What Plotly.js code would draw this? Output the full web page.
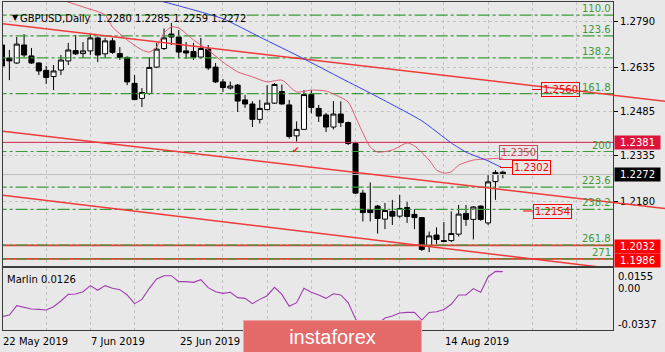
<!DOCTYPE html>
<html><head><meta charset="utf-8">
<script src="https://cdn.plot.ly/plotly-3.0.1.min.js"></script>
<style>html,body{margin:0;padding:0;background:#E8E8E8;}#chart{width:665px;height:352px;}</style>
</head><body><div id="chart"></div>
<script>
// ---------- data ----------
const dates = ['2019-05-22','2019-05-23','2019-05-24','2019-05-27','2019-05-28','2019-05-29','2019-05-30','2019-05-31',
 '2019-06-03','2019-06-04','2019-06-05','2019-06-06','2019-06-07','2019-06-10','2019-06-11','2019-06-12','2019-06-13','2019-06-14',
 '2019-06-17','2019-06-18','2019-06-19','2019-06-20','2019-06-21','2019-06-24','2019-06-25','2019-06-26','2019-06-27','2019-06-28',
 '2019-07-01','2019-07-02','2019-07-03','2019-07-04','2019-07-05','2019-07-08','2019-07-09','2019-07-10','2019-07-11','2019-07-12',
 '2019-07-15','2019-07-16','2019-07-17','2019-07-18','2019-07-19','2019-07-22','2019-07-23','2019-07-24','2019-07-25','2019-07-26',
 '2019-07-29','2019-07-30','2019-07-31','2019-08-01','2019-08-02','2019-08-05','2019-08-06','2019-08-07','2019-08-08','2019-08-09',
 '2019-08-12','2019-08-13','2019-08-14','2019-08-15','2019-08-16','2019-08-19','2019-08-20','2019-08-21','2019-08-22','2019-08-23','2019-08-26'];
const openP  = [1.2711,1.2667,1.2650,1.2711,1.2674,1.2650,1.2625,1.2604,1.2626,1.2657,1.2692,1.2682,1.2691,1.2735,1.2681,1.2725,1.2682,1.2669,1.2581,1.2530,1.2547,1.2636,1.2699,1.2748,1.2738,1.2691,1.2689,1.2670,1.2697,1.2636,1.2586,1.2565,1.2575,1.2525,1.2511,1.2459,1.2492,1.2514,1.2553,1.2508,1.2403,1.2425,1.2543,1.2496,1.2474,1.2433,1.2477,1.2448,1.2377,1.2209,1.2152,1.2165,1.2121,1.2147,1.2131,1.2160,1.2137,1.2126,1.2028,1.2067,1.2048,1.2048,1.2070,1.2140,1.2120,1.2165,1.2108,1.2248,1.2280];
const highP  = [1.2728,1.2694,1.2738,1.2748,1.2701,1.2653,1.2640,1.2643,1.2677,1.2718,1.2745,1.2721,1.2748,1.2740,1.2735,1.2735,1.2704,1.2672,1.2609,1.2565,1.2670,1.2718,1.2767,1.2786,1.2762,1.2721,1.2718,1.2735,1.2711,1.2650,1.2596,1.2587,1.2579,1.2542,1.2520,1.2525,1.2575,1.2582,1.2577,1.2525,1.2452,1.2558,1.2558,1.2508,1.2481,1.2521,1.2520,1.2452,1.2379,1.2220,1.2245,1.2169,1.2176,1.2186,1.2203,1.2179,1.2155,1.2128,1.2079,1.2093,1.2111,1.2147,1.2169,1.2169,1.2165,1.2167,1.2270,1.2287,1.2285];
const lowP   = [1.2630,1.2592,1.2647,1.2670,1.2647,1.2609,1.2579,1.2558,1.2609,1.2643,1.2677,1.2667,1.2677,1.2653,1.2667,1.2681,1.2660,1.2575,1.2525,1.2501,1.2542,1.2633,1.2694,1.2711,1.2667,1.2664,1.2660,1.2664,1.2626,1.2582,1.2552,1.2560,1.2484,1.2498,1.2433,1.2445,1.2491,1.2511,1.2509,1.2394,1.2384,1.2423,1.2479,1.2450,1.2416,1.2425,1.2433,1.2372,1.2206,1.2113,1.2113,1.2072,1.2087,1.2101,1.2125,1.2108,1.2087,1.2013,1.2009,1.2037,1.2043,1.2043,1.2062,1.2098,1.2052,1.2115,1.2101,1.2186,1.2259];
const closeP = [1.2640,1.2657,1.2714,1.2677,1.2650,1.2623,1.2601,1.2623,1.2660,1.2694,1.2681,1.2691,1.2735,1.2677,1.2725,1.2686,1.2669,1.2586,1.2526,1.2550,1.2635,1.2697,1.2735,1.2738,1.2687,1.2684,1.2669,1.2699,1.2633,1.2586,1.2567,1.2572,1.2521,1.2511,1.2459,1.2496,1.2514,1.2577,1.2511,1.2401,1.2425,1.2543,1.2499,1.2470,1.2433,1.2477,1.2448,1.2377,1.2209,1.2143,1.2143,1.2123,1.2150,1.2131,1.2157,1.2130,1.2126,1.2018,1.2064,1.2052,1.2045,1.2072,1.2138,1.2120,1.2162,1.2120,1.2247,1.2279,1.2272];

// indicator on the main chart (thin crimson curve) and slow MA (blue)
const redCurveBars = [5,8,11,14,15,17,19,20,21,22,23,24,26,28,30,32,34,36,38,40,42,44,45,47,48,49,50,51,53,55,56,58,59,60,61,62,64,66,68];
const redCurveVals = [1.2880,1.2864,1.2840,1.2813,1.2772,1.2728,1.2694,1.2687,1.2704,1.2752,1.2772,1.2769,1.2728,1.2694,1.2653,1.2620,1.2603,1.2586,1.2592,1.2552,1.2558,1.2555,1.2545,1.2518,1.2467,1.2413,1.2365,1.2348,1.2355,1.2379,1.2369,1.2321,1.2287,1.2277,1.2281,1.2304,1.2321,1.2325,1.2328];
const maBars = [18,22,30,35,41,46,51,57,61,63,66,68];
const maVals = [1.2880,1.2857,1.2800,1.2738,1.2664,1.2599,1.2535,1.2454,1.2379,1.2348,1.2318,1.2294];

// Marlin oscillator
const marlin = [-0.0231,-0.0218,-0.0144,-0.0160,-0.0170,-0.0173,-0.0178,-0.0152,-0.0107,-0.0054,
 -0.0051,-0.0033,0.0015,-0.0022,0.0015,-0.0006,-0.0017,-0.0059,-0.0128,-0.0094,
 -0.0006,0.0068,0.0094,0.0094,0.0047,0.0047,0.0041,0.0062,-0.0001,-0.0033,
 -0.0046,-0.0038,-0.0080,-0.0086,-0.0128,-0.0094,-0.0065,0.0002,-0.0054,-0.0149,
 -0.0120,-0.0006,-0.0038,-0.0059,-0.0086,-0.0049,-0.0059,-0.0119,-0.0250,-0.0305,
 -0.0321,-0.0289,-0.0242,-0.0226,-0.0202,-0.0197,-0.0197,-0.0258,-0.0198,-0.0192,
 -0.0174,-0.0133,-0.0059,-0.0059,-0.0008,-0.0038,0.0084,0.0128,0.0126];
const marlinTickText = ['0.0155','0.00','-0.0337'];

// trend lines (bar index -> price)
const trendBars = [0, 83];
const topTrend = [1.2783, 1.2541];
const midTrend = [1.2419, 1.2177];
const lowTrend = [1.2202, 1.1953];

// Fibonacci expansion levels
const fibLabels = ['110.0','123.6','138.2','161.8','200','223.6','238.2','261.8','271'];
const fibPrices = [1.2812,1.2742,1.2667,1.2546,1.2350,1.2229,1.2154,1.2033,1.1986];

// horizontal levels
const crimsonLevel = 1.2381;
const redLevels = [1.2032, 1.1986];
const bidPrice = 1.2272;

// axis ticks
const priceTicks = [1.2790, 1.2635, 1.2485, 1.2335, 1.2180];
const dateTickBars = [0, 12, 24, 60];
const dateTickText = ['22 May 2019','7 Jun 2019','25 Jun 2019','14 Aug 2019'];

// price labels drawn on the chart
const tagTexts = ['1.2560','1.2350','1.2302','1.2154'];

// ---------- drawing ----------
const bars = dates.map((d, i) => i);
const FONT = 'DejaVu Sans, Verdana, sans-serif';
const BG = '#E8E8E8', GRID = '#C2C2C2', FRAME = '#3C3C3C', GREEN = '#3A9A3A';
const SPAN = [-1, 84];
const XR = [0.136, 82.96];
const L = 3, W = 610, TOP = 2, BOT = 330, H = BOT - TOP;
const X = px => (px - L) / W;
const Y = py => (BOT - py) / H;
const barToPaper = b => (b - XR[0]) / (XR[1] - XR[0]);

const traces = [];
redLevels.forEach(p => traces.push({x: SPAN, y: [p, p], mode: 'lines', line: {color: '#FF3030', width: 1.6}, hoverinfo: 'skip'}));
traces.push({x: SPAN, y: [crimsonLevel, crimsonLevel], mode: 'lines', line: {color: '#D0204A', width: 1}, hoverinfo: 'skip'});
traces.push({x: SPAN, y: [bidPrice, bidPrice], mode: 'lines', line: {color: '#BDBDBD', width: 1}, hoverinfo: 'skip'});
fibPrices.forEach(p => traces.push({x: SPAN, y: [p, p], mode: 'lines', line: {color: GREEN, width: 1.2, dash: '12px,3px,3px,3px'}, hoverinfo: 'skip'}));
[topTrend, midTrend, lowTrend].forEach(t => traces.push({x: trendBars, y: t, mode: 'lines', line: {color: '#F23A3A', width: 1.5}, hoverinfo: 'skip'}));
traces.push({type: 'candlestick', x: bars, open: openP, high: highP, low: lowP, close: closeP,
  increasing: {line: {color: '#000', width: 1}, fillcolor: '#FFFFFF'},
  decreasing: {line: {color: '#000', width: 1}, fillcolor: '#000000'},
  whiskerwidth: 0, hoverinfo: 'skip'});
traces.push({x: redCurveBars, y: redCurveVals, mode: 'lines', line: {color: '#E05A72', width: 1, shape: 'spline', smoothing: 0.6}, hoverinfo: 'skip'});
traces.push({x: maBars, y: maVals, mode: 'lines', line: {color: '#3C3CF0', width: 1, shape: 'spline', smoothing: 0.5}, hoverinfo: 'skip'});
traces.push({x: bars, y: marlin, xaxis: 'x2', yaxis: 'y2', mode: 'lines', line: {color: '#A23CB2', width: 1.1}, hoverinfo: 'skip'});

// trend lines run on past the price scale, to the window edge
const edgeBar = XR[0] + (665 - L) * (XR[1] - XR[0]) / W;
const shapes = [topTrend, midTrend].map(t => {
  const s = (t[1] - t[0]) / (trendBars[1] - trendBars[0]);
  return {type: 'line', xref: 'paper', yref: 'y', x0: barToPaper(trendBars[1]), x1: barToPaper(edgeBar),
    y0: t[1], y1: t[0] + s * (edgeBar - trendBars[0]), line: {color: '#F23A3A', width: 1.5}, layer: 'above'};
});

const ann = o => Object.assign({showarrow: false, font: {family: FONT, size: 10, color: '#000'}}, o);
const annotations = [];
annotations.push(ann({xref: 'paper', yref: 'paper', x: X(10), y: Y(11), text: '▼', font: {family: FONT, size: 8, color: '#000'}}));
annotations.push(ann({xref: 'paper', yref: 'paper', x: X(18), y: Y(11.5), xanchor: 'left',
  text: 'GBPUSD,Daily  ' + [openP, highP, lowP, closeP].map(a => a[a.length - 1].toFixed(4)).join(' ')}));
[[crimsonLevel, '#DC143C', 0], [bidPrice, '#000000', 0], [redLevels[0], '#FF0000', -1.5], [redLevels[1], '#FF0000', -1.5]].forEach(([p, c, s]) => {
  annotations.push(ann({xref: 'paper', yref: 'y', x: X(614), y: p, xanchor: 'left', yanchor: 'middle', yshift: s,
    text: p.toFixed(4), bgcolor: c, borderpad: 1, width: 43, height: 11, font: {family: FONT, size: 10, color: '#FFFFFF'}}));
});
fibPrices.forEach((p, k) => annotations.push(ann({xref: 'paper', yref: 'y', x: X(612), y: p, xanchor: 'right', yanchor: 'bottom',
  text: fibLabels[k], borderpad: 0, font: {family: FONT, size: 10, color: GREEN}})));
dateTickBars.forEach((b, k) => annotations.push(ann({xref: 'paper', yref: 'paper', x: barToPaper(b), y: Y(341.5), xanchor: 'left', yanchor: 'middle',
  xshift: -1, text: dateTickText[k]})));
annotations.push(ann({xref: 'paper', yref: 'paper', x: X(5), y: Y(279), xanchor: 'left', yanchor: 'middle',
  text: 'Marlin ' + marlin[marlin.length - 1].toFixed(4)}));
[276.7, 288.3, 324].forEach((py, k) => annotations.push(ann({xref: 'paper', yref: 'paper', x: X(615.5), y: Y(py),
  xanchor: 'left', yanchor: 'middle', text: marlinTickText[k]})));
const tag = (text, color, px, py, ax) => ann({xref: 'paper', yref: 'paper', x: X(px), y: Y(py), ax: ax, ay: 0,
  showarrow: ax !== 0, arrowhead: 0, arrowwidth: 1, arrowcolor: color, text: text,
  bordercolor: color, borderwidth: 1, borderpad: 1, bgcolor: 'rgba(0,0,0,0)', font: {family: FONT, size: 10, color: color}});
annotations.push(tag(tagTexts[0], '#FF0000', 532, 89.5, 28));
annotations.push(tag(tagTexts[1], '#D8405C', 538, 152.5, 0));
annotations.push(tag(tagTexts[2], '#FF0000', 500, 167.5, 31));
annotations.push(tag(tagTexts[3], '#FF0000', 523, 211, 29.5));
annotations.push(ann({xref: 'paper', yref: 'paper', x: X(296), y: Y(150), text: '✔', font: {family: FONT, size: 9, color: '#FF2020'}}));
annotations.push(ann({xref: 'paper', yref: 'paper', x: X(243), y: Y(320), xanchor: 'left', yanchor: 'top',
  text: 'instaforex', bgcolor: '#E46A6A', bordercolor: '#EFA2A2', borderwidth: 1, borderpad: 0, width: 177, height: 32,
  font: {family: 'Liberation Sans, Arial, sans-serif', size: 20, color: '#FFFFFF'}}));

const xBase = {range: XR, showticklabels: false, ticks: '', tickmode: 'linear', tick0: 0, dtick: 6,
  showgrid: true, gridcolor: GRID, griddash: '3px,3px', zeroline: false, showline: true, mirror: true,
  linecolor: FRAME, linewidth: 1, fixedrange: true};
const layout = {
  width: 665, height: 352,
  margin: {l: L, r: 665 - L - W, t: TOP, b: 352 - BOT, pad: 0},
  paper_bgcolor: BG, plot_bgcolor: BG, showlegend: false,
  font: {family: FONT, size: 10, color: '#000'},
  boxgap: 0.32, boxgroupgap: 0,
  xaxis: Object.assign({}, xBase, {anchor: 'y', rangeslider: {visible: false}}),
  yaxis: {domain: [(BOT - 266) / H, 1], range: [1.19620, 1.28567], side: 'right', anchor: 'x',
    tickmode: 'array', tickvals: priceTicks, ticktext: priceTicks.map(v => v.toFixed(4)),
    ticks: 'outside', ticklen: 4, tickcolor: '#000', showgrid: true, gridcolor: GRID, griddash: '3px,3px',
    zeroline: false, showline: true, mirror: true, linecolor: FRAME, linewidth: 1, fixedrange: true},
  xaxis2: Object.assign({}, xBase, {anchor: 'y2'}),
  yaxis2: {domain: [0, (BOT - 268) / H], range: [-0.0337, 0.0155], side: 'right', anchor: 'x2',
    showticklabels: false, ticks: '', showgrid: false, zeroline: false, showline: true, mirror: true,
    linecolor: FRAME, linewidth: 1, fixedrange: true},
  shapes: shapes,
  annotations: annotations
};
Plotly.newPlot('chart', traces, layout, {displayModeBar: false, staticPlot: true});
</script></body></html>
